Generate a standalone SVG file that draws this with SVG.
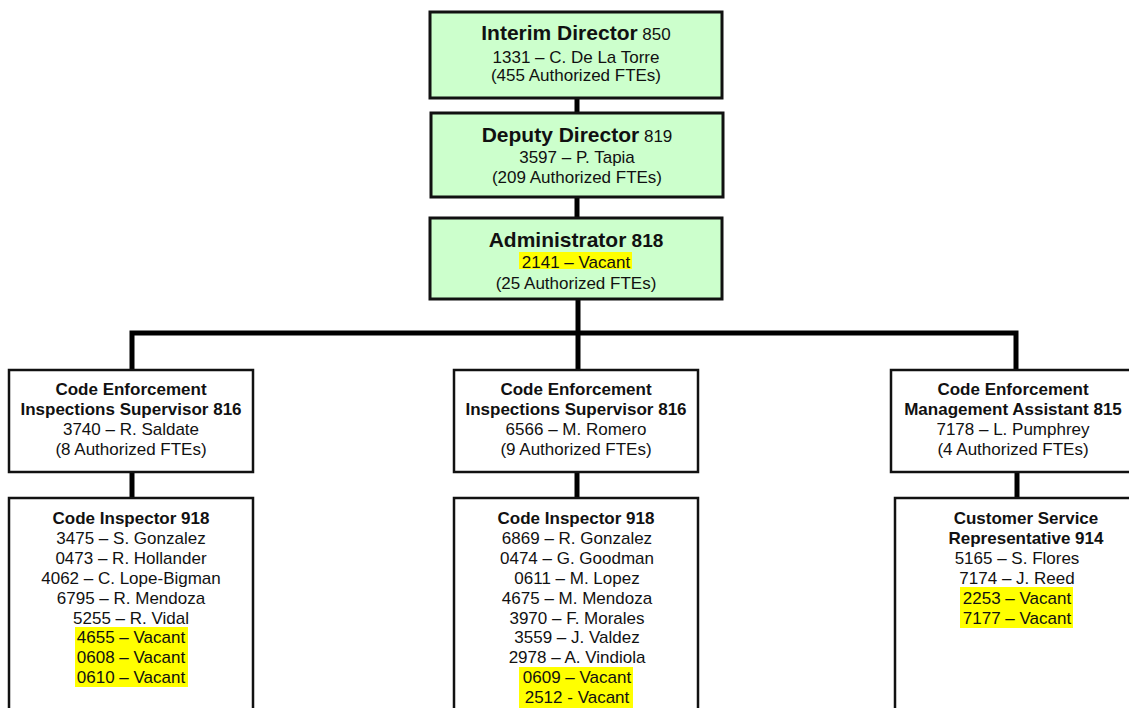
<svg xmlns="http://www.w3.org/2000/svg" width="1129" height="708" viewBox="0 0 1129 708">
<style>
text{font-family:"Liberation Sans",Arial,sans-serif;fill:#111;text-anchor:middle}
.t{font-size:17px}
.b{font-size:17px;font-weight:bold}
.h{font-size:21px;font-weight:bold}
.g{fill:#ccffcc;stroke:#111;stroke-width:3}
.w{fill:#fff;stroke:#111;stroke-width:2.5}
.hl{fill:#ffff00}
.c{stroke:#000;stroke-width:5;fill:none}
</style>
<rect width="1129" height="708" fill="#fff"/>
<g id="connectors">
<line class="c" x1="577" y1="98" x2="577" y2="113"/>
<line class="c" x1="577" y1="197" x2="577" y2="218"/>
<line class="c" x1="578" y1="299" x2="578" y2="370"/>
<polyline class="c" points="132,370 132,333 1016,333 1016,370"/>
<line class="c" x1="132" y1="472" x2="132" y2="498"/>
<line class="c" x1="577" y1="472" x2="577" y2="498"/>
<line class="c" x1="1017" y1="472" x2="1017" y2="498"/>
</g>
<g id="interim-director">
<rect class="g" x="430" y="12" width="292" height="86"/>
<text x="576" y="40"><tspan class="h">Interim Director</tspan><tspan class="t"> 850</tspan></text>
<text class="t" x="576" y="63">1331 – C. De La Torre</text>
<text class="t" x="576" y="81">(455 Authorized FTEs)</text>
</g>
<g id="deputy-director">
<rect class="g" x="431" y="113" width="292" height="84"/>
<text x="577" y="142"><tspan class="h">Deputy Director</tspan><tspan class="t"> 819</tspan></text>
<text class="t" x="577" y="163">3597 – P. Tapia</text>
<text class="t" x="577" y="183">(209 Authorized FTEs)</text>
</g>
<g id="administrator">
<rect class="g" x="430" y="218" width="292" height="81"/>
<text x="576" y="247"><tspan class="h">Administrator</tspan><tspan class="b" style="font-size:19px"> 818</tspan></text>
<rect class="hl" x="519" y="252" width="113" height="17"/>
<text class="t" x="576" y="268">2141 – Vacant</text>
<text class="t" x="576" y="289">(25 Authorized FTEs)</text>
</g>
<g id="supervisor-left">
<rect class="w" x="9" y="370" width="244" height="102"/>
<text class="b" x="131" y="395">Code Enforcement</text>
<text class="b" x="131" y="415">Inspections Supervisor 816</text>
<text class="t" x="131" y="435">3740 – R. Saldate</text>
<text class="t" x="131" y="455">(8 Authorized FTEs)</text>
</g>
<g id="supervisor-middle">
<rect class="w" x="454" y="370" width="244" height="102"/>
<text class="b" x="576" y="395">Code Enforcement</text>
<text class="b" x="576" y="415">Inspections Supervisor 816</text>
<text class="t" x="576" y="435">6566 – M. Romero</text>
<text class="t" x="576" y="455">(9 Authorized FTEs)</text>
</g>
<g id="management-assistant">
<rect class="w" x="891" y="370" width="245" height="102"/>
<text class="b" x="1013" y="395">Code Enforcement</text>
<text class="b" x="1013" y="415">Management Assistant 815</text>
<text class="t" x="1013" y="435">7178 – L. Pumphrey</text>
<text class="t" x="1013" y="455">(4 Authorized FTEs)</text>
</g>
<g id="inspectors-left">
<rect class="w" x="9" y="498" width="244" height="230"/>
<rect class="hl" x="75" y="627" width="113" height="60"/>
<text class="b" x="131" y="524">Code Inspector 918</text>
<text class="t" x="131" y="543.9">3475 – S. Gonzalez</text>
<text class="t" x="131" y="563.8">0473 – R. Hollander</text>
<text class="t" x="131" y="583.7">4062 – C. Lope-Bigman</text>
<text class="t" x="131" y="603.6">6795 – R. Mendoza</text>
<text class="t" x="131" y="623.5">5255 – R. Vidal</text>
<text class="t" x="131" y="643.4">4655 – Vacant</text>
<text class="t" x="131" y="663.3">0608 – Vacant</text>
<text class="t" x="131" y="683.2">0610 – Vacant</text>
</g>
<g id="inspectors-middle">
<rect class="w" x="454" y="498" width="244" height="230"/>
<rect class="hl" x="519" y="667" width="114" height="41"/>
<text class="b" x="576" y="524">Code Inspector 918</text>
<text class="t" x="577" y="543.9">6869 – R. Gonzalez</text>
<text class="t" x="577" y="563.8">0474 – G. Goodman</text>
<text class="t" x="577" y="583.7">0611 – M. Lopez</text>
<text class="t" x="577" y="603.6">4675 – M. Mendoza</text>
<text class="t" x="577" y="623.5">3970 – F. Morales</text>
<text class="t" x="577" y="643.4">3559 – J. Valdez</text>
<text class="t" x="577" y="663.3">2978 – A. Vindiola</text>
<text class="t" x="577" y="683.2">0609 – Vacant</text>
<text class="t" x="577" y="703.1">2512 - Vacant</text>
</g>
<g id="customer-service">
<rect class="w" x="895" y="498" width="245" height="230"/>
<rect class="hl" x="960" y="587" width="113" height="41"/>
<text class="b" x="1026" y="524">Customer Service</text>
<text class="b" x="1026" y="543.9">Representative 914</text>
<text class="t" x="1017" y="563.8">5165 – S. Flores</text>
<text class="t" x="1017" y="583.7">7174 – J. Reed</text>
<text class="t" x="1017" y="603.6">2253 – Vacant</text>
<text class="t" x="1017" y="623.5">7177 – Vacant</text>
</g>
</svg>
